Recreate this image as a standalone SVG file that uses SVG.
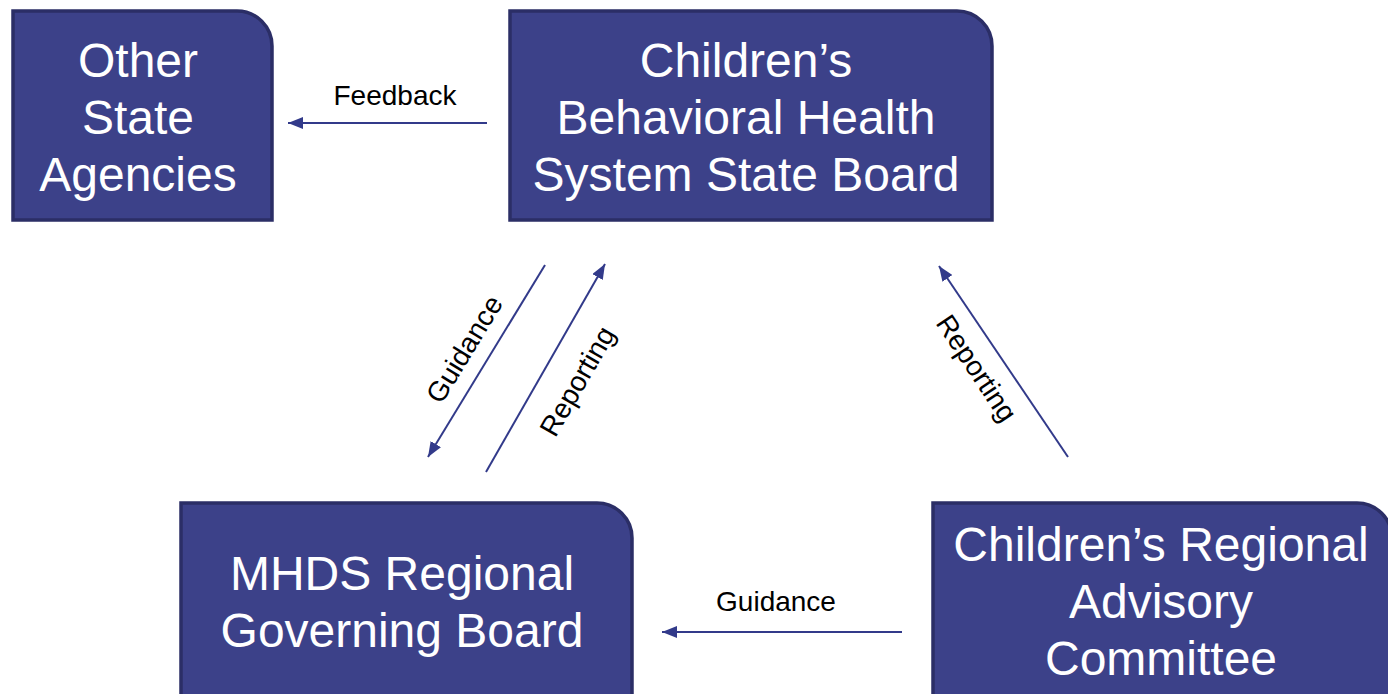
<svg xmlns="http://www.w3.org/2000/svg" width="1388" height="694" viewBox="0 0 1388 694">
<defs>
<style>
.box{fill:#3c4189;stroke:#2b2e66;stroke-width:3.5}
.nt{font-family:"Liberation Sans",Arial,sans-serif;font-size:48px;fill:#ffffff;text-anchor:middle}
.lt{font-family:"Liberation Sans",Arial,sans-serif;font-size:28px;fill:#000000;text-anchor:middle}
.conn{stroke:#323a8a;stroke-width:2;fill:none;marker-end:url(#ah)}
</style>
<marker id="ah" viewBox="0 0 15 12" refX="15" refY="6" markerWidth="15" markerHeight="12" markerUnits="userSpaceOnUse" orient="auto">
<path d="M0,0 L15,6 L0,12 Z" fill="#323a8a"/>
</marker>
</defs>
<rect width="1388" height="694" fill="#ffffff"/>
<g id="other-state-agencies">
<path class="box" d="M13,11 H237 A35,35 0 0 1 272,46 V220 H13 Z"/>
<text class="nt" x="138" y="77">Other</text>
<text class="nt" x="138" y="134">State</text>
<text class="nt" x="138" y="191">Agencies</text>
</g>
<g id="state-board">
<path class="box" d="M510,11 H957 A35,35 0 0 1 992,46 V220 H510 Z"/>
<text class="nt" x="746" y="77">Children’s</text>
<text class="nt" x="746" y="134">Behavioral Health</text>
<text class="nt" x="746" y="191">System State Board</text>
</g>
<g id="mhds-board">
<path class="box" d="M181,503 H597 A35,35 0 0 1 632,538 V710 H181 Z"/>
<text class="nt" x="402" y="590">MHDS Regional</text>
<text class="nt" x="402" y="647">Governing Board</text>
</g>
<g id="regional-advisory">
<path class="box" d="M933,503 H1357 A35,35 0 0 1 1392,538 V710 H933 Z"/>
<text class="nt" x="1161" y="561">Children’s Regional</text>
<text class="nt" x="1161" y="618">Advisory</text>
<text class="nt" x="1161" y="675">Committee</text>
</g>
<g id="connectors">
<line class="conn" x1="487" y1="123" x2="288" y2="123"/>
<line class="conn" x1="902" y1="632" x2="662" y2="632"/>
<line class="conn" x1="545" y1="265" x2="428" y2="457"/>
<line class="conn" x1="486" y1="472" x2="605" y2="264"/>
<line class="conn" x1="1068" y1="457" x2="939" y2="266"/>
<text class="lt" x="395" y="105">Feedback</text>
<text class="lt" x="776" y="611">Guidance</text>
<text class="lt" transform="translate(464,349) rotate(-58.6)" y="10">Guidance</text>
<text class="lt" transform="translate(577,381) rotate(-60)" y="10">Reporting</text>
<text class="lt" transform="translate(977,368) rotate(56.3)" y="10">Reporting</text>
</g>
</svg>
